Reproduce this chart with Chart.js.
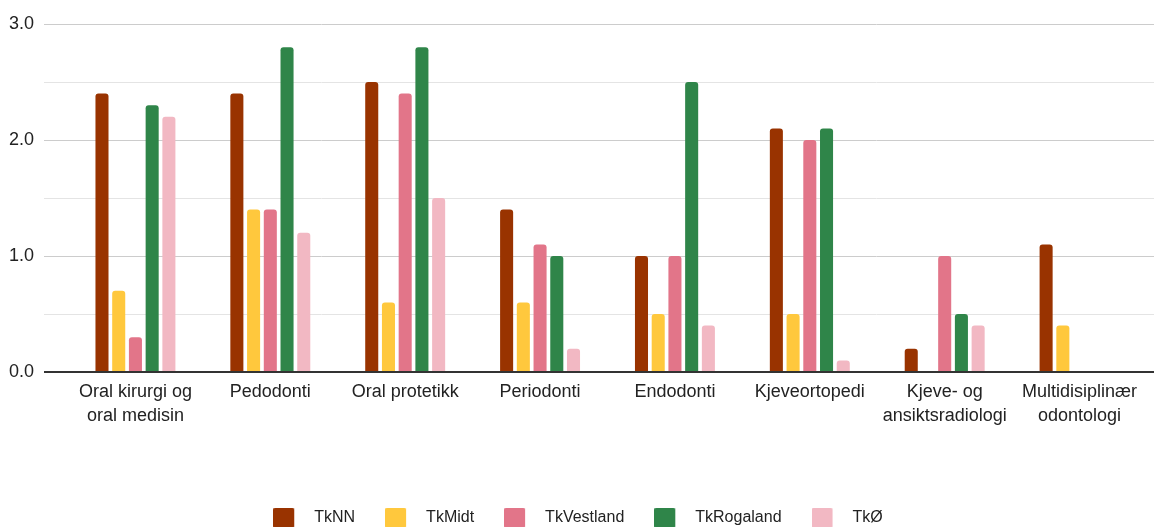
<!DOCTYPE html>
<html>
<head>
<meta charset="utf-8">
<script src="https://cdn.jsdelivr.net/npm/chart.js@4/dist/chart.umd.min.js"></script>
<style>
  html, body { margin: 0; padding: 0; background: #fff; }
  #wrap { width: 1154px; height: 527px; position: relative; }
</style>
</head>
<body>
<div id="wrap"><canvas id="c"></canvas></div>
<script>
// Specialties (x categories), multi-line labels as arrays
const categories = [
  ['Oral kirurgi og', 'oral medisin'],
  'Pedodonti',
  'Oral protetikk',
  'Periodonti',
  'Endodonti',
  'Kjeveortopedi',
  ['Kjeve- og', 'ansiktsradiologi'],
  ['Multidisiplinær', 'odontologi']
];

// One value list per region
const tkNN       = [2.4, 2.4, 2.5, 1.4, 1.0, 2.1, 0.2, 1.1];
const tkMidt     = [0.7, 1.4, 0.6, 0.6, 0.5, 0.5, null, 0.4];
const tkVestland = [0.3, 1.4, 2.4, 1.1, 1.0, 2.0, 1.0, null];
const tkRogaland = [2.3, 2.8, 2.8, 1.0, 2.5, 2.1, 0.5, null];
const tkO        = [2.2, 1.2, 1.5, 0.2, 0.4, 0.1, 0.4, null];

const seriesNames = ['TkNN', 'TkMidt', 'TkVestland', 'TkRogaland', 'TkØ'];
const seriesColors = ['#993300', '#ffc83d', '#e27589', '#2f8549', '#f2b8c3'];

// Y tick values (labels shown on whole numbers only)
const yTicks = [0, 0.5, 1.0, 1.5, 2.0, 2.5, 3.0];

const FONT = 'Liberation Sans, Arial, sans-serif';

// Legend swatch: a rounded square followed by blank space before the text
function makeSwatch(color) {
  const cv = document.createElement('canvas');
  cv.width = 33;
  cv.height = 21;
  const g = cv.getContext('2d');
  g.fillStyle = color;
  g.beginPath();
  g.roundRect(0, 0, 21, 21, 2);
  g.fill();
  return cv;
}
const swatches = seriesColors.map(makeSwatch);

// Horizontal gridlines spanning the full plot width, plus the dark baseline
const gridPlugin = {
  id: 'fullGrid',
  beforeDatasetsDraw(chart) {
    const { ctx } = chart;
    const y = chart.scales.y;
    const left = 44, right = chart.width;
    ctx.save();
    yTicks.forEach(v => {
      if (v === 0) return;
      const py = Math.round(y.getPixelForValue(v)) + 0.5;
      ctx.strokeStyle = Number.isInteger(v) ? '#cccccc' : '#e4e4e4';
      ctx.lineWidth = 1;
      ctx.beginPath();
      ctx.moveTo(left, py);
      ctx.lineTo(right, py);
      ctx.stroke();
    });
    ctx.restore();
  },
  afterDatasetsDraw(chart) {
    const { ctx } = chart;
    const y = chart.scales.y;
    const py = Math.round(y.getPixelForValue(0));
    ctx.save();
    ctx.strokeStyle = '#333333';
    ctx.lineWidth = 2;
    ctx.beginPath();
    ctx.moveTo(44, py);
    ctx.lineTo(chart.width, py);
    ctx.stroke();
    ctx.restore();
  }
};

const valueLists = [tkNN, tkMidt, tkVestland, tkRogaland, tkO];

new Chart(document.getElementById('c'), {
  type: 'bar',
  data: {
    labels: categories,
    datasets: valueLists.map((vals, i) => ({
      label: seriesNames[i],
      data: vals,
      backgroundColor: seriesColors[i],
      borderRadius: { topLeft: 3, topRight: 3, bottomLeft: 0, bottomRight: 0 },
      borderSkipped: 'bottom',
      categoryPercentage: 0.62,
      barPercentage: 0.78
    }))
  },
  options: {
    responsive: true,
    maintainAspectRatio: false,
    animation: false,
    layout: { padding: { left: 9, right: 7, top: 24, bottom: -9 } },
    plugins: {
      tooltip: { enabled: false },
      legend: {
        position: 'bottom',
        labels: {
          usePointStyle: true,
          pointStyleWidth: 33,
          padding: 30,
          color: '#222',
          font: { family: FONT, size: 16 },
          generateLabels(chart) {
            const items = Chart.defaults.plugins.legend.labels.generateLabels(chart);
            items.forEach((it, i) => { it.pointStyle = swatches[i]; });
            return items;
          }
        }
      }
    },
    scales: {
      x: {
        grid: { display: false, drawTicks: false },
        border: { display: false },
        ticks: {
          color: '#222',
          font: { family: FONT, size: 18, lineHeight: 1.28 },
          padding: 9,
          maxRotation: 0,
          autoSkip: false
        },
        afterFit(scale) { scale.height = 108; }
      },
      y: {
        min: 0,
        max: 3,
        afterBuildTicks(scale) { scale.ticks = yTicks.map(v => ({ value: v })); },
        grid: { display: false, drawTicks: false },
        border: { display: false },
        ticks: {
          color: '#222',
          font: { family: FONT, size: 18 },
          padding: 0,
          crossAlign: 'far',
          callback: v => Number.isInteger(v) ? v.toFixed(1) : ''
        },
        afterFit(scale) { scale.width = 59; }
      }
    }
  },
  plugins: [gridPlugin]
});
</script>
</body>
</html>
